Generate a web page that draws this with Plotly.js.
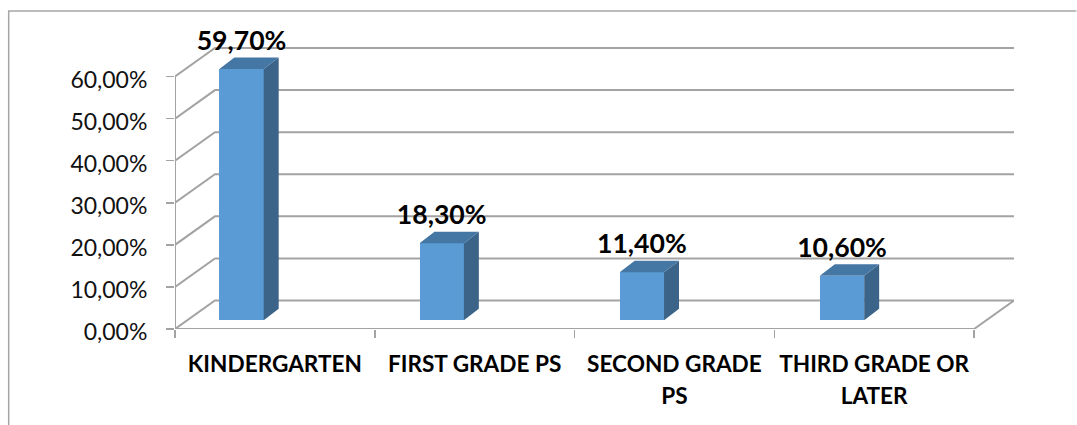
<!DOCTYPE html>
<html>
<head>
<meta charset="utf-8">
<script src="https://cdn.plot.ly/plotly-3.0.1.min.js"></script>
<style>html,body{margin:0;padding:0;background:#fff}</style>
</head>
<body>
<div id="chart" style="width:1077px;height:425px"></div>
<script>
// School stage at first enrolment, share of respondents (%)
const categories = [["KINDERGARTEN"], ["FIRST GRADE PS"], ["SECOND GRADE", "PS"], ["THIRD GRADE OR", "LATER"]];
const shares = [59.7, 18.3, 11.4, 10.6];
const yTicks = [0, 10, 20, 30, 40, 50, 60];
const yTickLabels = ["0,00%", "10,00%", "20,00%", "30,00%", "40,00%", "50,00%", "60,00%"];

// Pseudo-3D geometry, in axis units
const wallDx = 0.2, wallDy = 6.77;      // depth of the side wall and floor
const barInset = 0.222, barWidth = 0.222, barStep = 1.002;
const barBase = 2.07;                   // bars stand part-way back on the floor
const barDx = 0.075, barDy = 2.74;      // depth of each bar
const n = categories.length;

const grid = '#a3a3a3';
const line = (pts, width, color) => ({
  type: 'path', xref: 'x', yref: 'y', layer: 'below',
  path: pts.map((p, i) => (i ? 'L' : 'M') + p[0] + ',' + p[1]).join(' '),
  line: {color: color || grid, width: width || 2}
});

// Wall lines run along the floor side, then across the back wall
const shapes = yTicks.map(v => line([[0, v], [wallDx, v + wallDy], [n + wallDx, v + wallDy]]));
shapes.push(line([[0, yTicks[yTicks.length - 1]], [0, 0], [n, 0], [n + wallDx, wallDy]]));

// Outer chart frame, open on the right and bottom
const W = 1077, H = 425, mL = 174.5, mR = 62.5, mT = 5.1, mB = 96.3;
const px = x => (x - mL) / (W - mL - mR), py = y => (H - mB - y) / (H - mT - mB);
shapes.push({type: 'path', xref: 'paper', yref: 'paper', layer: 'below',
  path: `M${px(8)},${py(425)} L${px(8)},${py(11)} L${px(1077)},${py(11)}`,
  line: {color: '#a6a6a6', width: 1.5}});

const lefts = shares.map((_, i) => barInset + i * barStep);
const rights = lefts.map(x => x + barWidth);
const tops = shares.map(v => barBase + v);

// Side and top faces follow from each bar's value
let sideX = [], sideY = [], topX = [], topY = [];
shares.forEach((v, i) => {
  const l = lefts[i], r = rights[i], t = tops[i];
  sideX.push(r, r + barDx, r + barDx, r, r, null);
  sideY.push(barBase, barBase + barDy, t + barDy, t, barBase, null);
  topX.push(l, l + barDx, r + barDx, r, l, null);
  topY.push(t, t + barDy, t + barDy, t, t, null);
});

const data = [
  {type: 'bar', x: lefts.map(x => x + barWidth / 2), y: shares, base: barBase, width: barWidth,
   marker: {color: '#5b9bd5', line: {width: 0}}, hoverinfo: 'skip', showlegend: false},
  {type: 'scatter', mode: 'lines', x: sideX, y: sideY, fill: 'toself', fillcolor: '#3b6488',
   line: {width: 0}, hoverinfo: 'skip', showlegend: false},
  {type: 'scatter', mode: 'lines', x: topX, y: topY, fill: 'toself', fillcolor: '#4577a5',
   line: {width: 0}, hoverinfo: 'skip', showlegend: false},
  {type: 'scatter', mode: 'text', x: lefts.map(x => x + barWidth / 2), y: tops.map(t => t + 6.1),
   text: shares.map(v => v.toFixed(2).replace('.', ',') + '%'), textposition: 'middle center',
   textfont: {family: 'Lato, sans-serif', size: 26.6, weight: 700, color: '#000'},
   cliponaxis: false, hoverinfo: 'skip', showlegend: false}
];

const labelSize = 22.6;
const wrapped = categories.map(rows =>
  rows.map(r => `<span style="font-size:${labelSize}px">${r}</span>`).join('<br>'));

const layout = {
  width: W, height: H, showlegend: false, bargap: 0,
  paper_bgcolor: '#fff', plot_bgcolor: 'rgba(0,0,0,0)',
  margin: {l: mL, r: mR, t: mT, b: mB, pad: 0},
  font: {family: 'Lato, sans-serif', color: '#111'},
  xaxis: {
    type: 'linear', range: [0, n + wallDx], fixedrange: true,
    tickmode: 'array', tickvals: categories.map((_, i) => i + 0.5), ticktext: wrapped,
    ticks: '', tickangle: 0, showgrid: false, zeroline: false, showline: false,
    ticklabelstandoff: 18,
    tickfont: {family: 'Lato, sans-serif', size: 24.4, weight: 700, color: '#000'},
    minor: {tickmode: 'array', tickvals: categories.map((_, i) => i).concat(n),
            ticks: 'outside', ticklen: 8, tickwidth: 1.5, tickcolor: grid, showgrid: false}
  },
  yaxis: {
    range: [0, 77], fixedrange: true, tickmode: 'array', tickvals: yTicks, ticktext: yTickLabels,
    ticks: 'outside', ticklen: 8, tickwidth: 1.5, tickcolor: grid,
    showgrid: false, zeroline: false, showline: false, ticklabelstandoff: 14, ticklabelshift: 3,
    tickfont: {family: 'Lato, sans-serif', size: 23, color: '#111'}
  },
  shapes: shapes
};

Plotly.newPlot('chart', data, layout, {displayModeBar: false, staticPlot: true});
</script>
</body>
</html>
